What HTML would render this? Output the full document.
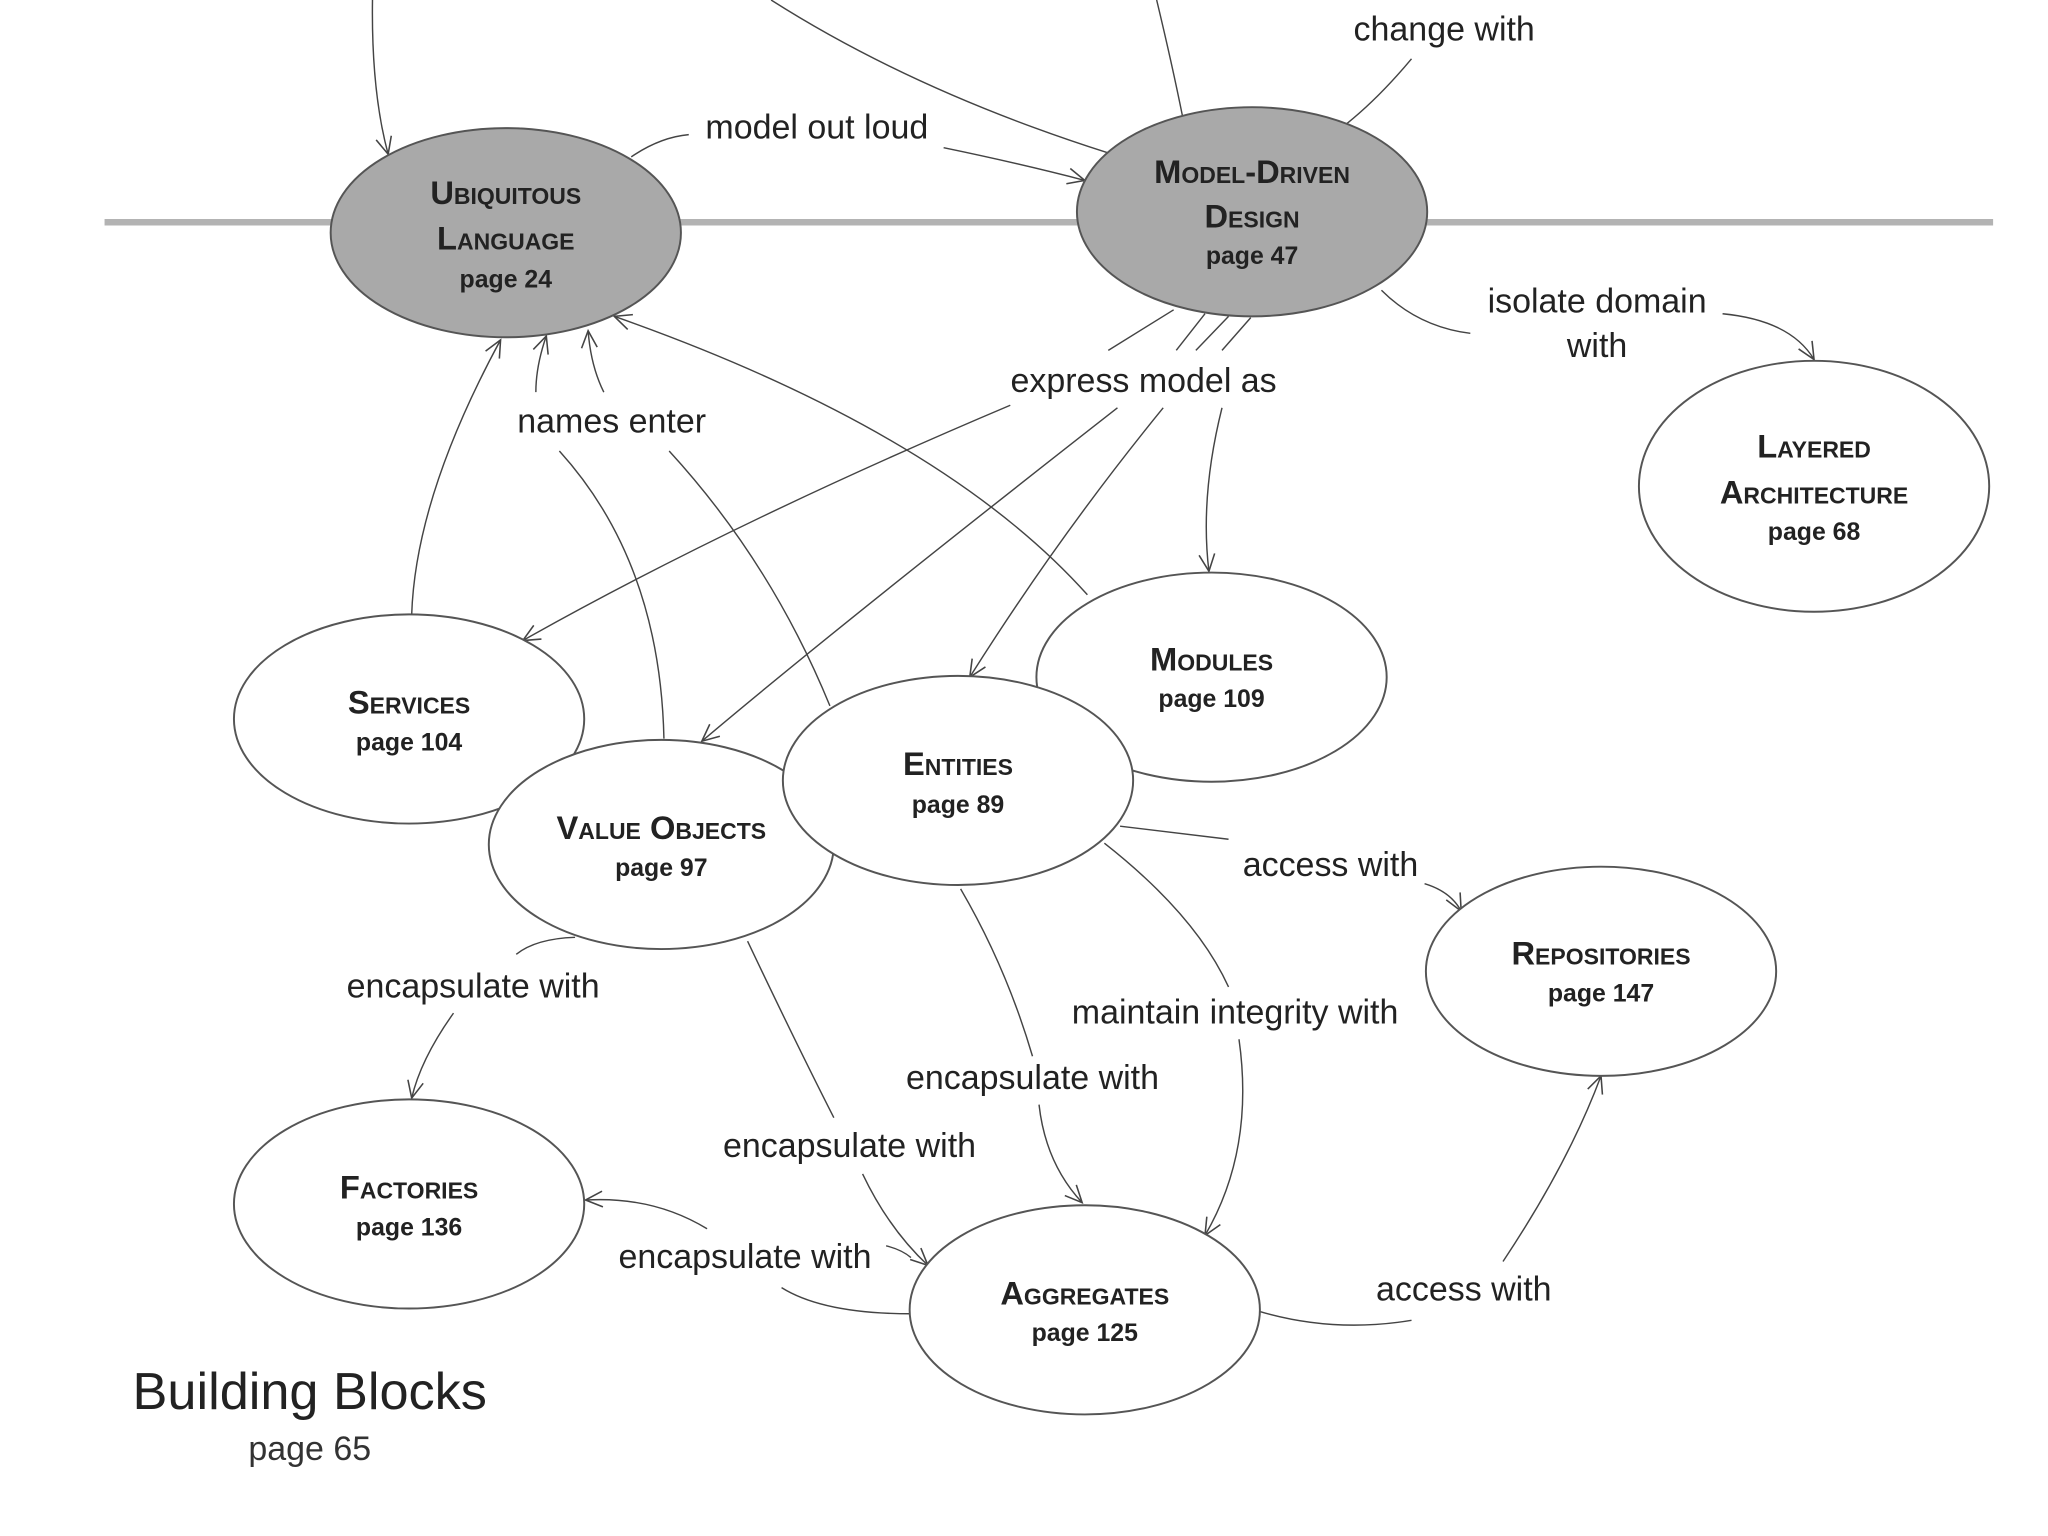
<!DOCTYPE html>
<html><head><meta charset="utf-8"><style>
html,body{margin:0;padding:0;background:#fff;width:2048px;height:1536px;overflow:hidden}
svg{display:block}
.n{font-family:"Liberation Sans",sans-serif;font-weight:bold;font-variant:small-caps;font-size:25px;fill:#222;text-anchor:middle}
.p{font-family:"Liberation Sans",sans-serif;font-weight:bold;font-size:19px;fill:#222;text-anchor:middle}
.l{font-family:"Liberation Sans",sans-serif;font-size:26px;fill:#222;text-anchor:middle}
.e{fill:#fff;stroke:#555;stroke-width:1.5}
.g{fill:#a9a9a9;stroke:#555;stroke-width:1.5}
path.c{fill:none;stroke:#444;stroke-width:1.1}
</style></head><body>
<svg width="2048" height="1536" viewBox="0 0 1567 1175" preserveAspectRatio="none" xmlns="http://www.w3.org/2000/svg">
<defs><marker id="a" markerWidth="16" markerHeight="16" refX="14" refY="8" orient="auto" markerUnits="userSpaceOnUse"><path d="M1,2 L14,8 L1,14" fill="none" stroke="#444" stroke-width="1.2"/></marker></defs>
<line x1="80" y1="170" x2="1525" y2="170" stroke="#b3b3b3" stroke-width="5"/>
<path class="c" d="M285,0 Q284,70 297,118" marker-end="url(#a)"/>
<path class="c" d="M590,0 Q700,70 848,117"/>
<path class="c" d="M885,0 Q897,50 905,90"/>
<path class="c" d="M1080,45 Q1055,75 1030,95"/>
<path class="c" d="M483,120 Q505,105 527,103"/>
<path class="c" d="M722,113 Q780,125 830,138" marker-end="url(#a)"/>
<path class="c" d="M1057,222 Q1085,250 1125,255"/>
<path class="c" d="M1318,240 Q1370,245 1388,275" marker-end="url(#a)"/>
<path class="c" d="M848,268 L898,237"/>
<path class="c" d="M900,268 L922,240"/>
<path class="c" d="M915,268 L940,242"/>
<path class="c" d="M935,268 L957,243"/>
<path class="c" d="M773,310 Q560,400 400,490" marker-end="url(#a)"/>
<path class="c" d="M855,312 Q640,480 537,567" marker-end="url(#a)"/>
<path class="c" d="M890,312 Q810,410 742,518" marker-end="url(#a)"/>
<path class="c" d="M935,312 Q918,380 925,437" marker-end="url(#a)"/>
<path class="c" d="M315,470 Q318,380 383,260" marker-end="url(#a)"/>
<path class="c" d="M508,565 Q505,430 428,345"/>
<path class="c" d="M410,300 Q410,280 418,257" marker-end="url(#a)"/>
<path class="c" d="M635,540 Q590,430 512,345"/>
<path class="c" d="M462,300 Q452,280 450,253" marker-end="url(#a)"/>
<path class="c" d="M832,455 Q720,330 470,242" marker-end="url(#a)"/>
<path class="c" d="M857,632 Q900,637 940,642"/>
<path class="c" d="M1090,676 Q1110,682 1118,697" marker-end="url(#a)"/>
<path class="c" d="M845,645 Q915,700 940,755"/>
<path class="c" d="M948,795 Q960,880 922,945" marker-end="url(#a)"/>
<path class="c" d="M735,680 Q770,740 790,808"/>
<path class="c" d="M795,845 Q800,890 828,920" marker-end="url(#a)"/>
<path class="c" d="M572,720 Q610,800 638,855"/>
<path class="c" d="M660,898 Q680,940 710,968" marker-end="url(#a)"/>
<path class="c" d="M440,717 Q410,718 395,730"/>
<path class="c" d="M347,775 Q322,810 315,840" marker-end="url(#a)"/>
<path class="c" d="M697,1005 Q630,1005 598,985"/>
<path class="c" d="M541,940 Q500,915 448,918" marker-end="url(#a)"/>
<path class="c" d="M678,953 Q690,956 697,962"/>
<path class="c" d="M963,1003 Q1020,1020 1080,1010"/>
<path class="c" d="M1150,965 Q1200,890 1225,823" marker-end="url(#a)"/>
<ellipse class="g" cx="387" cy="178" rx="134" ry="80"/>
<ellipse class="g" cx="958" cy="162" rx="134" ry="80"/>
<ellipse class="e" cx="1388" cy="372" rx="134" ry="96"/>
<ellipse class="e" cx="313" cy="550" rx="134" ry="80"/>
<ellipse class="e" cx="927" cy="518" rx="134" ry="80"/>
<ellipse class="e" cx="506" cy="646" rx="132" ry="80"/>
<ellipse class="e" cx="733" cy="597" rx="134" ry="80"/>
<ellipse class="e" cx="1225" cy="743" rx="134" ry="80"/>
<ellipse class="e" cx="313" cy="921" rx="134" ry="80"/>
<ellipse class="e" cx="830" cy="1002" rx="134" ry="80"/>
<text class="n" x="387" y="156">Ubiquitous</text><text class="n" x="387" y="191">Language</text><text class="p" x="387" y="220">page 24</text>
<text class="n" x="958" y="140">Model-Driven</text><text class="n" x="958" y="174">Design</text><text class="p" x="958" y="202">page 47</text>
<text class="n" x="1388" y="350">Layered</text><text class="n" x="1388" y="385">Architecture</text><text class="p" x="1388" y="413">page 68</text>
<text class="n" x="313" y="546">Services</text><text class="p" x="313" y="574">page 104</text>
<text class="n" x="927" y="513">Modules</text><text class="p" x="927" y="541">page 109</text>
<text class="n" x="506" y="642">Value Objects</text><text class="p" x="506" y="670">page 97</text>
<text class="n" x="733" y="593">Entities</text><text class="p" x="733" y="622">page 89</text>
<text class="n" x="1225" y="738">Repositories</text><text class="p" x="1225" y="766">page 147</text>
<text class="n" x="313" y="917">Factories</text><text class="p" x="313" y="945">page 136</text>
<text class="n" x="830" y="998">Aggregates</text><text class="p" x="830" y="1026">page 125</text>
<text class="l" x="1105" y="31">change with</text>
<text class="l" x="625" y="106">model out loud</text>
<text class="l" x="1222" y="239">isolate domain</text><text class="l" x="1222" y="273">with</text>
<text class="l" x="875" y="300">express model as</text>
<text class="l" x="468" y="331">names enter</text>
<text class="l" x="1018" y="670">access with</text>
<text class="l" x="945" y="783">maintain integrity with</text>
<text class="l" x="790" y="833">encapsulate with</text>
<text class="l" x="362" y="763">encapsulate with</text>
<text class="l" x="650" y="885">encapsulate with</text>
<text class="l" x="570" y="970">encapsulate with</text>
<text class="l" x="1120" y="995">access with</text>
<text x="237" y="1078" style="font-family:'Liberation Sans',sans-serif;font-size:40px;fill:#222;text-anchor:middle">Building Blocks</text>
<text x="237" y="1117" style="font-family:'Liberation Sans',sans-serif;font-size:26px;fill:#333;text-anchor:middle">page 65</text>
</svg>
</body></html>
